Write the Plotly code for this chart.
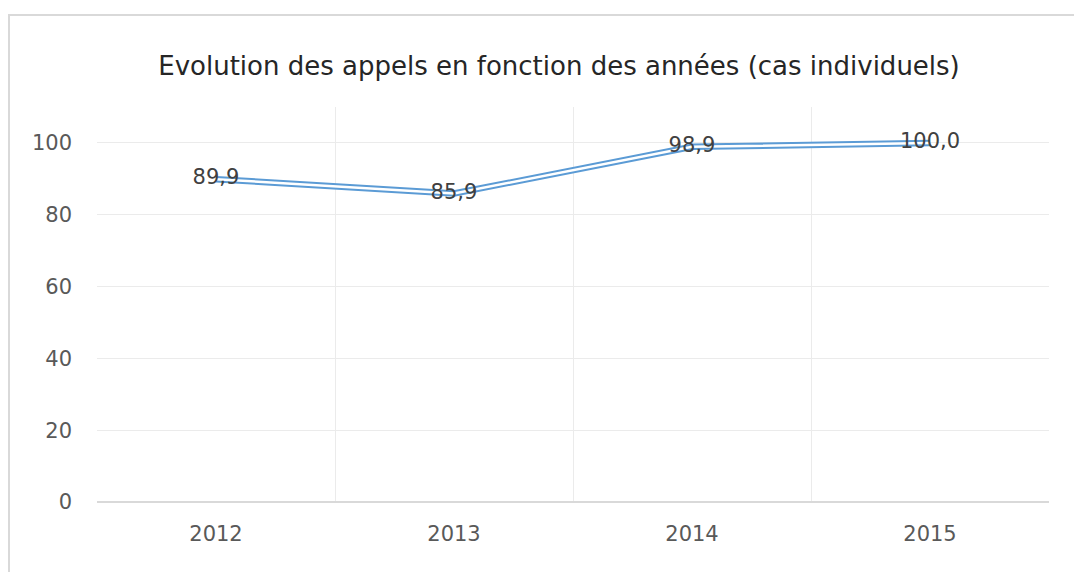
import plotly.graph_objects as go

years = ["2012", "2013", "2014", "2015"]
values = [89.9, 85.9, 98.9, 100.0]
labels = ["89,9", "85,9", "98,9", "100,0"]
y_ticks = [0, 20, 40, 60, 80, 100]

W, H = 1074, 572
L, T = 97, 107
R, B = W - 1049, H - 502
pw, ph = W - L - R, H - T - B

FONT = "DejaVu Sans"

fig = go.Figure()
# double line: blue outer, white inner
fig.add_trace(go.Scatter(x=years, y=values, mode="lines",
                         line=dict(color="#5b9bd5", width=6.5), hoverinfo="skip"))
fig.add_trace(go.Scatter(x=years, y=values, mode="lines+text",
                         line=dict(color="#ffffff", width=2.5),
                         text=labels, textposition="middle center",
                         hoverinfo="skip",
                         textfont=dict(family=FONT, size=21, color="#404040")))

fig.update_layout(
    width=W, height=H,
    margin=dict(l=L, r=R, t=T, b=B),
    paper_bgcolor="white", plot_bgcolor="white",
    showlegend=False,
    title=dict(text="Evolution des appels en fonction des années (cas individuels)",
               x=559 / W, xanchor="center", y=1 - 66 / H, yanchor="middle",
               font=dict(family=FONT, size=26, color="#262626")),
    xaxis=dict(type="category", range=[-0.5, 3.5], tickson="boundaries",
               showgrid=True, gridcolor="#ebebeb", gridwidth=1,
               ticks="", showline=False, zeroline=False,
               tickfont=dict(family=FONT, size=21, color="#595959"),
               ticklabelstandoff=17),
    yaxis=dict(range=[0, 110], tickvals=y_ticks, showgrid=True,
               gridcolor="#ebebeb", gridwidth=1, zeroline=True,
               zerolinecolor="#d9d9d9", zerolinewidth=1.5,
               ticks="", showline=False,
               tickfont=dict(family=FONT, size=21, color="#595959"),
               ticklabelstandoff=24),
    shapes=[dict(type="rect", xref="paper", yref="paper",
                 x0=(9 - L) / pw, x1=1.2, y0=-0.4, y1=1 + (T - 15) / ph,
                 line=dict(color="#d9d9d9", width=2), layer="below")],
)

fig.write_html("out.html",
               config={"displayModeBar": False},
               post_script="document.body.style.margin='0';document.body.style.overflow='hidden';")
